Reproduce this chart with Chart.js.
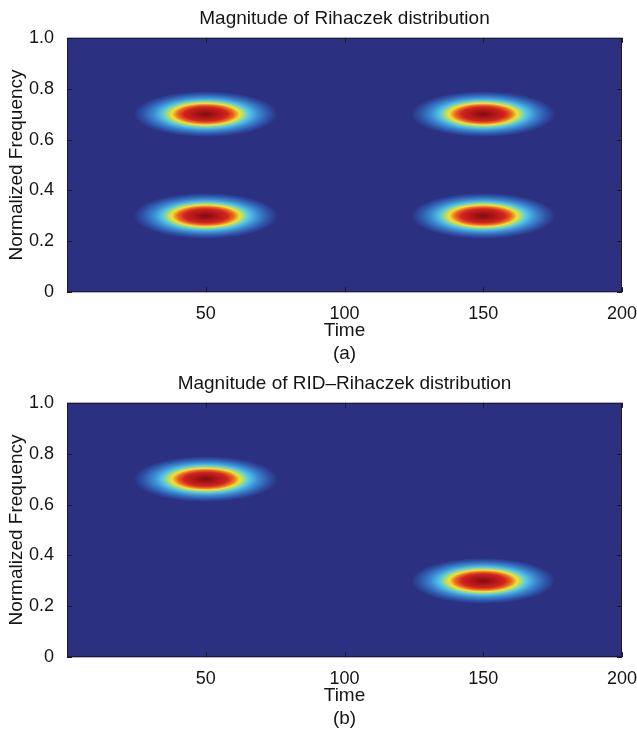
<!DOCTYPE html>
<html>
<head>
<meta charset="utf-8">
<script src="https://cdn.jsdelivr.net/npm/chart.js@4.4.0/dist/chart.umd.min.js"></script>
<style>
body { margin: 0; background: #fff; }
.panel { width: 637px; height: 365px; position: relative; }
</style>
</head>
<body>
<div class="panel"><canvas id="chart_a"></canvas></div>
<div class="panel"><canvas id="chart_b"></canvas></div>
<script>
var timeTicks = [50, 100, 150, 200];
var freqTicks = [0, 0.2, 0.4, 0.6, 0.8, 1.0];

// blob centres
var rihaczekTime = [50, 150, 50, 150];
var rihaczekFreq = [0.3, 0.3, 0.7, 0.7];
var ridTime = [50, 150];
var ridFreq = [0.7, 0.3];

// outer reach of a blob, in time units and frequency units
var blobHalfTime = 26;
var blobHalfFreq = 0.09;

// colour rings from the centre outward (fraction of the outer reach)
var ringStops = [0, 0.1, 0.3, 0.39, 0.47, 0.53, 0.6, 0.73, 0.87, 1];
var ringColors = ['#7a0e10', '#9c1214', '#d22222', '#ec6a22', '#f3e030', '#a6dc78', '#56c6e6', '#3a88d0', '#2f54a8', '#2b3080'];
var backColor = '#2b3080';

var fontFamily = '"Liberation Sans", Arial, Helvetica, sans-serif';
var textColor = '#151515';

var heatPlugin = {
    id: 'heat',
    beforeDatasetsDraw: function (chart) {
        var ctx = chart.ctx, area = chart.chartArea;
        var xs = chart.scales.x, ys = chart.scales.y;
        ctx.save();
        ctx.fillStyle = backColor;
        ctx.fillRect(area.left, area.top, area.right - area.left, area.bottom - area.top);
        ctx.beginPath();
        ctx.rect(area.left, area.top, area.right - area.left, area.bottom - area.top);
        ctx.clip();
        chart.data.datasets[0].data.forEach(function (p) {
            var cx = xs.getPixelForValue(p.x), cy = ys.getPixelForValue(p.y);
            var rx = xs.getPixelForValue(p.x + blobHalfTime) - cx;
            var ry = cy - ys.getPixelForValue(p.y + blobHalfFreq);
            ctx.save();
            ctx.translate(cx, cy);
            ctx.scale(rx, ry);
            var g = ctx.createRadialGradient(0, 0, 0, 0, 0, 1);
            ringStops.forEach(function (s, i) { g.addColorStop(s, ringColors[i]); });
            ctx.fillStyle = g;
            ctx.beginPath();
            ctx.arc(0, 0, 1, 0, Math.PI * 2);
            ctx.fill();
            ctx.restore();
        });
        ctx.restore();
    },
    afterDatasetsDraw: function (chart) {
        //frame and inward ticks, matlab style
        var ctx = chart.ctx, a = chart.chartArea;
        var xs = chart.scales.x, ys = chart.scales.y;
        ctx.save();
        ctx.strokeStyle = '#1a1a2a';
        ctx.lineWidth = 1;
        ctx.strokeRect(a.left + 0.5, a.top + 0.5, a.right - a.left - 1, a.bottom - a.top - 1);
        ctx.beginPath();
        timeTicks.forEach(function (v) {
            var px = Math.round(xs.getPixelForValue(v)) + 0.5;
            ctx.moveTo(px, a.bottom); ctx.lineTo(px, a.bottom - 5);
            ctx.moveTo(px, a.top); ctx.lineTo(px, a.top + 5);
        });
        freqTicks.forEach(function (v) {
            var py = Math.round(ys.getPixelForValue(v)) + 0.5;
            ctx.moveTo(a.left, py); ctx.lineTo(a.left + 5, py);
            ctx.moveTo(a.right, py); ctx.lineTo(a.right - 5, py);
        });
        ctx.stroke();
        ctx.restore();
    }
};

function makeChart(id, times, freqs, titleText, tag) {
    var points = times.map(function (t, i) { return {x: t, y: freqs[i]}; });
    return new Chart(document.getElementById(id), {
        type: 'scatter',
        data: {datasets: [{data: points, pointRadius: 0, pointHoverRadius: 0}]},
        options: {
            responsive: true,
            maintainAspectRatio: false,
            animation: false,
            layout: {padding: {left: 0, right: 15, top: 0, bottom: 0}},
            plugins: {
                legend: {display: false},
                tooltip: {enabled: false},
                title: {
                    display: true, text: titleText, color: textColor, fullSize: false,
                    font: {family: fontFamily, size: 19, weight: 'normal'},
                    padding: {top: 7, bottom: 8}
                },
                subtitle: {
                    display: true, text: tag, position: 'bottom', color: textColor, fullSize: false,
                    font: {family: fontFamily, size: 19, weight: 'normal'},
                    padding: {top: 0, bottom: 0}
                }
            },
            scales: {
                x: {
                    type: 'linear', min: 0, max: 200,
                    afterBuildTicks: function (s) { s.ticks = timeTicks.map(function (v) { return {value: v}; }); },
                    afterFit: function (s) { s.height = 50; s.paddingLeft = 0; s.paddingRight = 0; },
                    grid: {display: false},
                    border: {display: false},
                    ticks: {
                        color: textColor, padding: 3, maxRotation: 0, autoSkip: false,
                        font: {family: fontFamily, size: 18}
                    },
                    title: {
                        display: true, text: 'Time', color: textColor,
                        font: {family: fontFamily, size: 19},
                        padding: {top: 0, bottom: 0}
                    }
                },
                y: {
                    type: 'linear', min: 0, max: 1,
                    afterBuildTicks: function (s) { s.ticks = freqTicks.map(function (v) { return {value: v}; }); },
                    afterFit: function (s) { s.width = 67; s.paddingTop = 0; s.paddingBottom = 0; },
                    grid: {display: false},
                    border: {display: false},
                    ticks: {
                        color: textColor, padding: 5,
                        font: {family: fontFamily, size: 18},
                        callback: function (v) { return v === 0 ? '0' : v.toFixed(1); }
                    },
                    title: {
                        display: true, text: 'Normalized Frequency', color: textColor,
                        font: {family: fontFamily, size: 19},
                        padding: {top: 5, bottom: 0}
                    }
                }
            }
        },
        plugins: [heatPlugin]
    });
}

makeChart('chart_a', rihaczekTime, rihaczekFreq, 'Magnitude of Rihaczek distribution', '(a)');
makeChart('chart_b', ridTime, ridFreq, 'Magnitude of RID\u2013Rihaczek distribution', '(b)');
</script>
</body>
</html>
